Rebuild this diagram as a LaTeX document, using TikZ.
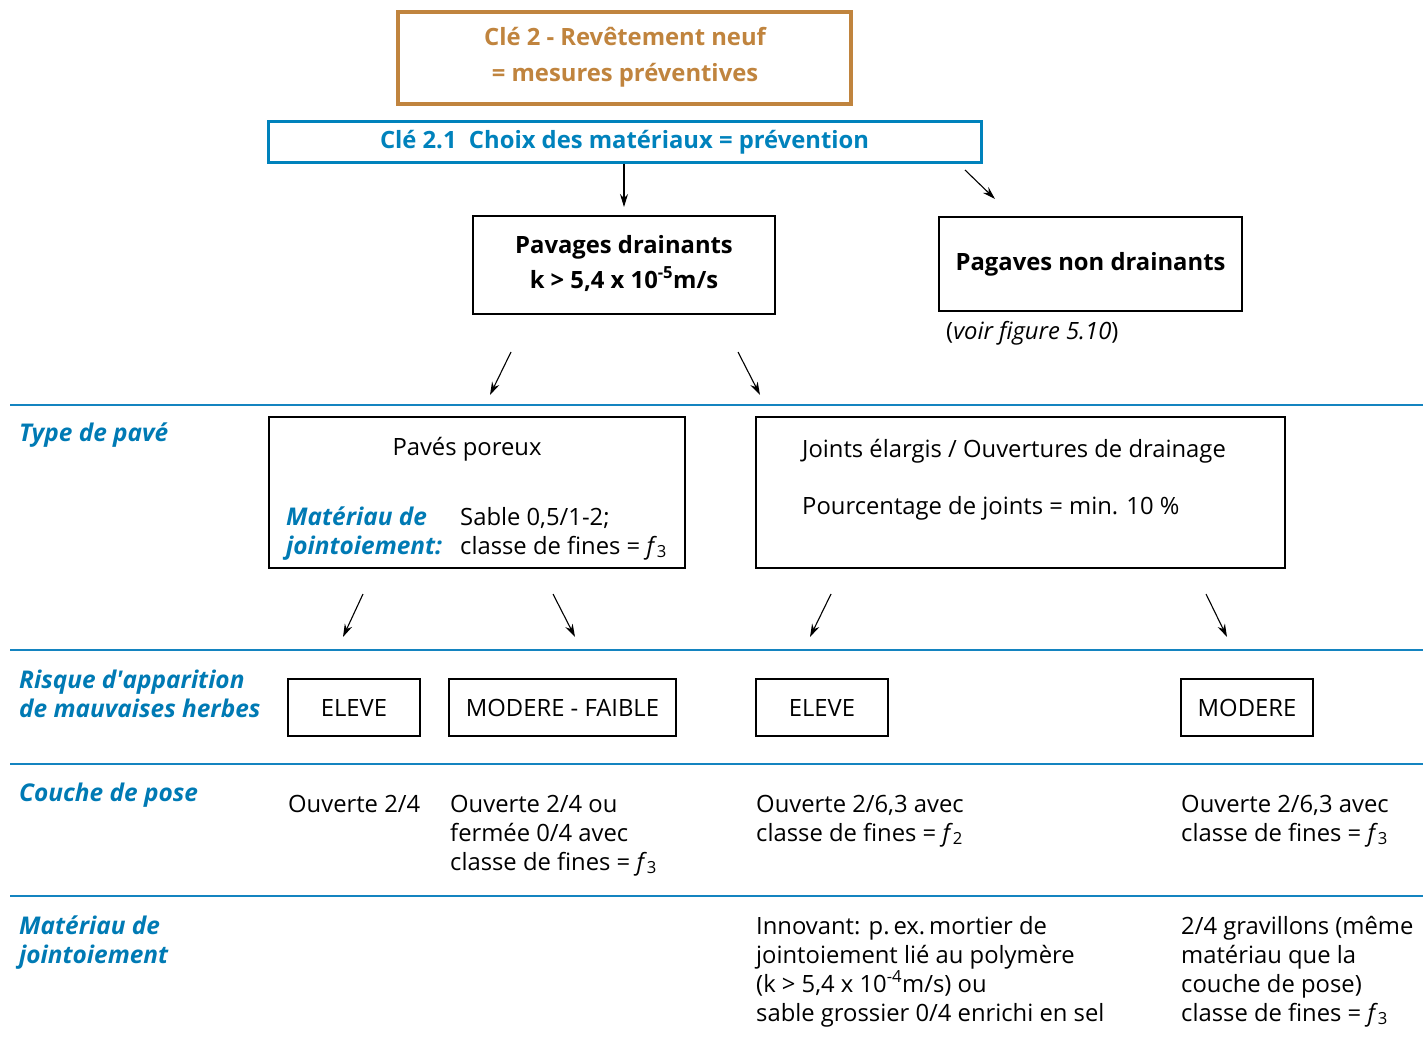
\documentclass[tikz,border=0pt]{standalone}
\usepackage{fontspec}
\setmainfont{Open Sans}
\usetikzlibrary{arrows.meta}
\definecolor{brownc}{RGB}{192,132,62}
\definecolor{bluebox}{RGB}{0,130,188}
\definecolor{blueline}{RGB}{20,132,192}
\definecolor{bluelab}{RGB}{0,122,180}
\newcommand{\fsz}{\fontsize{23.8}{29}\selectfont}
\newcommand{\fszl}{\fontsize{24.4}{29}\selectfont}
\tikzset{
  txt/.style={inner sep=0pt, anchor=base west, font=\fsz},
  ctxt/.style={inner sep=0pt, anchor=base, font=\fsz},
  lab/.style={txt, font=\fszl\bfseries\itshape, text=bluelab},
  blackbox/.style={draw=black, line width=1.5pt, inner sep=0pt},
  riskbox/.style={blackbox, minimum height=57pt, font=\fsz},
  sepline/.style={draw=blueline, line width=2.5pt},
  arr/.style={draw=black, line width=1.1pt, -{Stealth[length=13pt,width=8pt]}},
}
\begin{document}
\begin{tikzpicture}[x=1pt,y=-1pt]
\useasboundingbox (0,0) rectangle (1423,1043);
% top boxes
\node[draw=brownc, line width=4pt, minimum width=453pt, minimum height=92pt, inner sep=0pt] (cle2) at (624.5,58) {};
\node[ctxt, text=brownc, font=\fsz\bfseries] (cle2a) at (625,46) {Clé 2 - Revêtement neuf};
\node[ctxt, text=brownc, font=\fsz\bfseries] (cle2b) at (625,82) {= mesures préventives};
\node[draw=bluebox, line width=3pt, minimum width=713pt, minimum height=41pt, inner sep=0pt] (cle21) at (624.5,142) {};
\node[ctxt, text=bluebox, font=\fsz\bfseries] (cle21t) at (624.5,149) {Clé 2.1\ \ Choix des matériaux = prévention};
% second level
\node[blackbox, minimum width=302pt, minimum height=98pt] (drain) at (624,265) {};
\node[ctxt, font=\fsz\bfseries] (draina) at (624,253) {Pavages drainants};
\node[ctxt, font=\fsz\bfseries] (drainb) at (624,288) {k > 5,4 x 10\textsuperscript{-5}m/s};
\node[blackbox, minimum width=303pt, minimum height=94pt, font=\fsz\bfseries] (nondrain) at (1090.5,264) {Pagaves non drainants};
\node[txt] (voir) at (946,339) {(\textit{voir figure 5.10})};
% arrows top
\coordinate (a1e) at (624,207);
\coordinate (a2s) at (965,170);
\coordinate (a2e) at (995,199);
\draw[arr] (cle21.south -| a1e) -- (a1e);
\draw[arr] (a2s) -- (a2e);
\coordinate (a3s) at (511,352); \coordinate (a3e) at (490,395);
\coordinate (a4s) at (738,352); \coordinate (a4e) at (760,395);
\draw[arr] (a3s) -- (a3e);
\draw[arr] (a4s) -- (a4e);
% separator lines
\coordinate (l1a) at (10,405); \coordinate (l1b) at (1423,405);
\coordinate (l2a) at (10,650); \coordinate (l2b) at (1423,650);
\coordinate (l3a) at (10,764); \coordinate (l3b) at (1423,764);
\coordinate (l4a) at (10,896); \coordinate (l4b) at (1423,896);
\draw[sepline] (l1a) -- (l1b);
\draw[sepline] (l2a) -- (l2b);
\draw[sepline] (l3a) -- (l3b);
\draw[sepline] (l4a) -- (l4b);
% row 1
\node[lab] (r1) at (19,441) {Type de pavé};
\node[blackbox, minimum width=416pt, minimum height=151pt] (poreux) at (477,492.5) {};
\node[ctxt] (poreuxt) at (467,455) {Pavés poreux};
\node[lab] (matj1) at (286,525) {Matériau de};
\node[lab] (matj2) at (286,554) {jointoiement:};
\node[txt] (sab1) at (460,525) {Sable 0,5/1-2;};
\node[txt] (sab2) at (460,554) {classe de fines = \textit{f}\textsubscript{3}};
\node[blackbox, minimum width=529pt, minimum height=151pt] (joints) at (1020.5,492.5) {};
\node[txt] (jt1) at (802,457) {Joints élargis / Ouvertures de drainage};
\node[txt] (jt2) at (802,514) {Pourcentage de joints = min. 10 \%};
% arrows row 1 -> row 2
\coordinate (b1s) at (363,594); \coordinate (b1e) at (343,637);
\coordinate (b2s) at (553,594); \coordinate (b2e) at (575,637);
\coordinate (b3s) at (831,594); \coordinate (b3e) at (810,637);
\coordinate (b4s) at (1206,594); \coordinate (b4e) at (1227,637);
\draw[arr] (b1s) -- (b1e);
\draw[arr] (b2s) -- (b2e);
\draw[arr] (b3s) -- (b3e);
\draw[arr] (b4s) -- (b4e);
% row 2
\node[lab] (r2a) at (19,688) {Risque d\textquotesingle apparition};
\node[lab] (r2b) at (19,717) {de mauvaises herbes};
\node[riskbox, minimum width=132pt] (e1) at (354,707.5) {ELEVE};
\node[riskbox, minimum width=227pt] (m1) at (562.5,707.5) {MODERE - FAIBLE};
\node[riskbox, minimum width=132pt] (e2) at (822,707.5) {ELEVE};
\node[riskbox, minimum width=132pt] (m2) at (1247,707.5) {MODERE};
% row 3
\node[lab] (r3) at (19,801) {Couche de pose};
\node[txt] (c1) at (288,812) {Ouverte 2/4};
\node[txt] (c2a) at (450,812) {Ouverte 2/4 ou};
\node[txt] (c2b) at (450,841) {fermée 0/4 avec};
\node[txt] (c2c) at (450,870) {classe de fines = \textit{f}\textsubscript{3}};
\node[txt] (c3a) at (756,812) {Ouverte 2/6,3 avec};
\node[txt] (c3b) at (756,841) {classe de fines = \textit{f}\textsubscript{2}};
\node[txt] (c4a) at (1181,812) {Ouverte 2/6,3 avec};
\node[txt] (c4b) at (1181,841) {classe de fines = \textit{f}\textsubscript{3}};
% row 4
\node[lab] (r4a) at (19,934) {Matériau de};
\node[lab] (r4b) at (19,963) {jointoiement};
\node[txt] (j1a) at (756,934) {Innovant: p.\,ex.\,mortier de};
\node[txt] (j1b) at (756,963) {jointoiement lié au polymère};
\node[txt] (j1c) at (756,992) {(k > 5,4 x 10\textsuperscript{-4}m/s) ou};
\node[txt] (j1d) at (756,1021) {sable grossier 0/4 enrichi en sel};
\node[txt] (j2a) at (1181,934) {2/4 gravillons (même};
\node[txt] (j2b) at (1181,963) {matériau que la};
\node[txt] (j2c) at (1181,992) {couche de pose)};
\node[txt] (j2d) at (1181,1021) {classe de fines = \textit{f}\textsubscript{3}};
\end{tikzpicture}
\end{document}
